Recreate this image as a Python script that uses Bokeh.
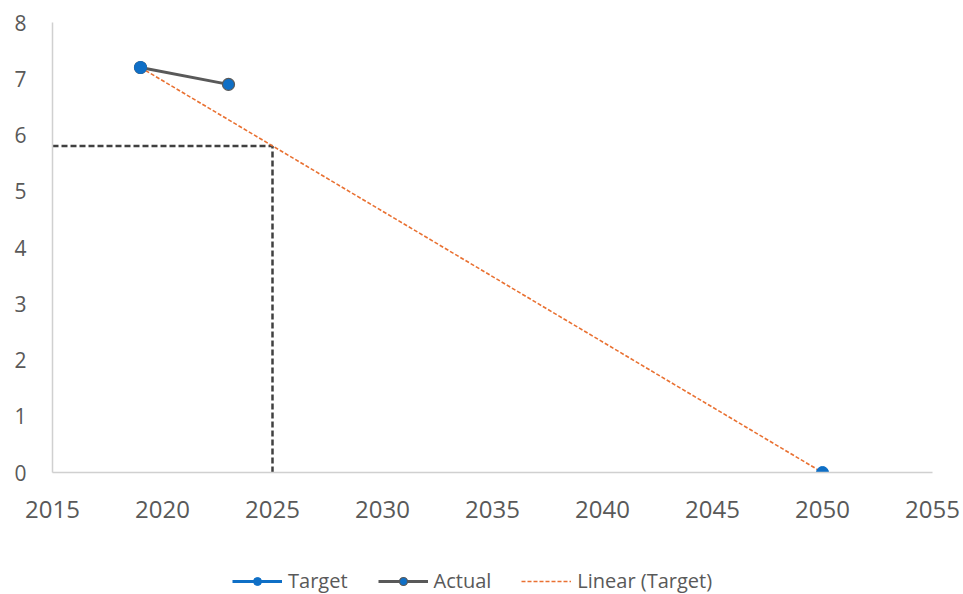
import numpy as np
from bokeh.plotting import figure
from bokeh.layouts import column
from bokeh.models import Range1d, FixedTicker, Legend, LegendItem
from bokeh.embed import file_html
from bokeh.resources import INLINE

# ---- data ----
target_years = [2019, 2050]
target_values = [7.2, 0.0]
actual_years = [2019, 2023]
actual_values = [7.2, 6.9]
reference_year = 2025
x_ticks = [2015, 2020, 2025, 2030, 2035, 2040, 2045, 2050, 2055]
y_ticks = [0, 1, 2, 3, 4, 5, 6, 7, 8]
series_labels = ["Target", "Actual", "Linear (Target)"]

# linear trend of Target
slope, intercept = np.polyfit(target_years, target_values, 1)
trend_x = [min(target_years), max(target_years)]
trend_y = [slope * x + intercept for x in trend_x]
ref_value = slope * reference_year + intercept

BLUE = "#0F6FC6"
GRAY = "#595959"
ORANGE = "#E97132"
TXT = "#595959"

p = figure(width=963, height=552, output_backend="svg", toolbar_location=None,
           x_range=Range1d(x_ticks[0], x_ticks[-1]), y_range=Range1d(y_ticks[0], y_ticks[-1]),
           min_border_left=52, min_border_right=31, min_border_top=22, min_border_bottom=80)
p.outline_line_color = None
p.xgrid.grid_line_color = None
p.ygrid.grid_line_color = None

p.xaxis.ticker = FixedTicker(ticks=x_ticks)
p.yaxis.ticker = FixedTicker(ticks=y_ticks)
for ax in (p.xaxis[0], p.yaxis[0]):
    ax.major_tick_line_color = None
    ax.minor_tick_line_color = None
    ax.major_label_text_color = TXT
    ax.major_label_text_font = "Open Sans"
    ax.axis_line_color = "#D0D0D0"
    ax.axis_line_width = 1.5
p.xaxis.major_label_text_font_size = "24px"
p.yaxis.major_label_text_font_size = "21px"
p.xaxis.major_label_standoff = 22
p.yaxis.major_label_standoff = 20

# reference dashed lines
p.line([x_ticks[0], reference_year], [ref_value, ref_value], line_color="#404040",
       line_width=2.5, line_dash="6 3")
p.line([reference_year, reference_year], [y_ticks[0], ref_value], line_color="#404040",
       line_width=2.5, line_dash="6 3")

# trend line
p.line(trend_x, trend_y, line_color=ORANGE, line_width=1.6, line_dash="4 2")

# actual
p.line(actual_years, actual_values, line_color=GRAY, line_width=3)
p.scatter(actual_years, actual_values, size=12, fill_color=BLUE,
          line_color=GRAY, line_width=1.2)

# target (markers only)
p.scatter(target_years, target_values, size=12, fill_color=BLUE,
          line_color=BLUE, line_width=1)

# ---- legend strip (legend-only proxy glyphs placed outside its range) ----
q = figure(width=963, height=42, output_backend="svg", toolbar_location=None,
           x_axis_type=None, y_axis_type=None, x_range=Range1d(0, 1), y_range=Range1d(0, 1),
           min_border=0)
q.outline_line_color = None
q.xgrid.grid_line_color = None
q.ygrid.grid_line_color = None

off = [-10, -9]
tl = q.line(x=off, y=off, line_color=BLUE, line_width=3)
tp = q.scatter(x=off, y=off, size=12, fill_color=BLUE, line_color=BLUE, line_width=1)
al = q.line(x=off, y=off, line_color=GRAY, line_width=3)
ap = q.scatter(x=off, y=off, size=12, fill_color=BLUE, line_color=GRAY, line_width=1.2)
ll = q.line(x=off, y=off, line_color=ORANGE, line_width=1.6, line_dash="4 2")

legend = Legend(items=[
    LegendItem(label=series_labels[0], renderers=[tl, tp]),
    LegendItem(label=series_labels[1], renderers=[al, ap]),
    LegendItem(label=series_labels[2], renderers=[ll]),
], orientation="horizontal", location=(180, 0))
legend.border_line_color = None
legend.background_fill_alpha = 0
legend.label_text_font = "Open Sans"
legend.label_text_font_size = "20px"
legend.label_text_color = TXT
legend.glyph_width = 50
legend.glyph_height = 20
legend.label_height = 20
legend.label_standoff = 6
legend.spacing = 30
legend.padding = 0
legend.margin = 0
q.add_layout(legend, "center")

open("out.html", "w").write(file_html(column(p, q, spacing=0), INLINE))
